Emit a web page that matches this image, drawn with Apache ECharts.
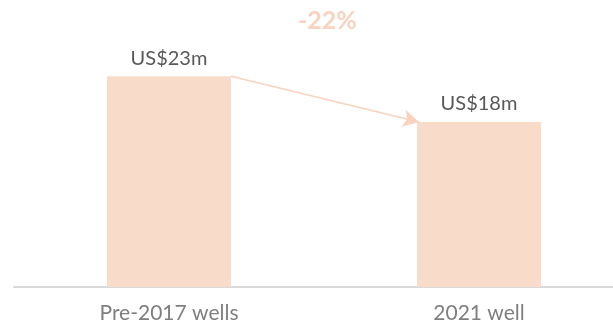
<!DOCTYPE html>
<html>
<head>
<meta charset="utf-8">
<script src="https://cdn.jsdelivr.net/npm/echarts@6/dist/echarts.min.js"></script>
<style>
  html, body { margin: 0; padding: 0; background: #fff; }
  #chart { width: 613px; height: 328px; }
</style>
</head>
<body>
<div id="chart"></div>
<script>
// Well cost comparison, US$ millions
const categories = ['Pre-2017 wells', '2021 well'];
const costs = [23, 18];
const changeLabel = '-22%';

const FONT = 'Lato, "Open Sans", sans-serif';
const BAR_COLOR = '#F9DBCA';
const BAR_WIDTH = 124;

const chart = echarts.init(document.getElementById('chart'), null, { renderer: 'canvas' });

chart.setOption({
  animation: false,
  grid: { left: 14, width: 620, top: 12, bottom: 41, outerBoundsMode: 'none', containLabel: false },
  xAxis: {
    type: 'category',
    data: categories,
    axisLine: { lineStyle: { color: '#D9D9D9', width: 2 } },
    axisTick: { show: false },
    axisLabel: { color: '#7F7F7F', fontSize: 21, fontFamily: FONT, margin: 16 }
  },
  yAxis: {
    type: 'value',
    min: 0,
    max: 30,
    show: false,
    splitLine: { show: false }
  },
  graphic: [{
    type: 'text',
    left: 298,
    top: 8,
    style: {
      text: changeLabel,
      fill: '#F8D3BE',
      font: 'bold 25px ' + FONT
    }
  }],
  series: [{
    type: 'bar',
    data: costs,
    barWidth: BAR_WIDTH,
    itemStyle: { color: BAR_COLOR },
    label: {
      show: true,
      position: 'top',
      distance: 8,
      color: '#595959',
      fontSize: 20,
      fontFamily: FONT,
      formatter: p => 'US$' + p.value + 'm'
    }
  }]
});

// Arrow from the top-right corner of the first bar to the top-left corner of the second
const p0 = chart.convertToPixel({ seriesIndex: 0 }, [0, costs[0]]);
const p1 = chart.convertToPixel({ seriesIndex: 0 }, [1, costs[1]]);
chart.setOption({
  series: [{
    markLine: {
      silent: true,
      symbol: ['none', 'arrow'],
      symbolSize: [13, 16],
      label: { show: false },
      lineStyle: { color: '#F9D3BD', width: 1.5, type: 'solid' },
      data: [[
        { x: p0[0] + BAR_WIDTH / 2, y: p0[1] },
        { x: p1[0] - BAR_WIDTH / 2 + 2, y: p1[1] }
      ]]
    }
  }]
});
</script>
</body>
</html>
